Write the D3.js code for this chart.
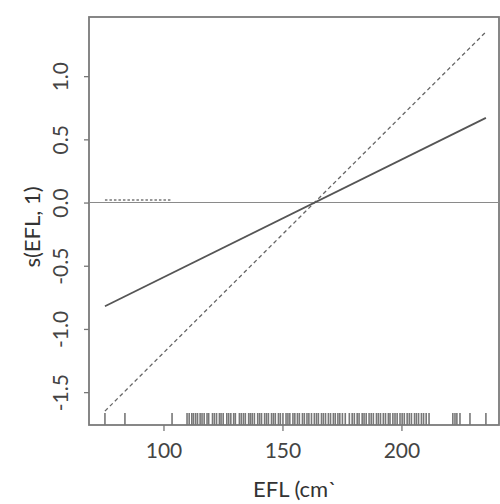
<!DOCTYPE html>
<html><head><meta charset="utf-8">
<script src="https://cdn.jsdelivr.net/npm/d3@7"></script>
<style>body{margin:0;background:#fff}svg{display:block}</style>
</head><body>
<svg id="c" width="500" height="504"></svg>
<script>
const xTicks = [100, 150, 200];
const yTicks = [-1.5, -1.0, -0.5, 0.0, 0.5, 1.0];
const fitLine = [[75.4, -0.82], [235.5, 0.67]];
const refLine = [[75.4, -1.65], [235.5, 1.35]];
const dottedSeg = [[75.4, 0.02], [103.6, 0.02]];
const rug = [75.4, 83.8, 103.6, 109.9, 110.8, 111.9, 112.6, 113.5, 114.3, 115.4, 116.2, 117.1, 118.3, 119.0, 120.6, 121.4, 122.3, 123.5, 124.2, 125.1, 126.6, 127.4, 128.3, 129.5, 130.2, 131.9, 132.7, 133.6, 134.4, 135.8, 136.5, 137.3, 138.2, 139.6, 140.4, 141.2, 142.5, 143.3, 144.1, 145.4, 146.2, 147.0, 148.3, 149.1, 150.2, 151.5, 152.3, 153.1, 154.4, 155.2, 156.3, 157.1, 158.4, 159.2, 160.3, 161.1, 162.2, 163.4, 164.3, 165.1, 166.4, 167.2, 168.1, 169.3, 170.2, 171.4, 172.2, 173.3, 174.1, 175.2, 176.4, 178.1, 179.3, 180.2, 181.4, 182.2, 183.5, 184.3, 185.2, 186.4, 187.3, 188.2, 189.5, 190.3, 191.2, 192.4, 193.3, 194.5, 195.2, 196.4, 197.3, 198.2, 199.4, 200.3, 201.2, 202.4, 203.3, 204.2, 205.5, 206.3, 207.2, 208.4, 209.3, 210.4, 211.6, 221.6, 222.5, 223.3, 224.6, 228.8, 235.5];
const xLabel = "EFL (cm`";
const yLabel = "s(EFL, 1)";

const svg = d3.select("#c");
const L = 89, R = 499, T = 17, B = 425;
const x = d3.scaleLinear().domain([68.7, 241]).range([L, R]);
const y = d3.scaleLinear().domain([-1.76, 1.468]).range([B, T]);
const font = "Lato, 'Open Sans', sans-serif";

// frame
svg.append("rect").attr("x", L).attr("y", T).attr("width", R - L).attr("height", B - T)
  .attr("fill", "none").attr("stroke", "#7a7a7a").attr("stroke-width", 1.8);

// zero line
svg.append("line").attr("x1", L).attr("x2", R).attr("y1", y(0)).attr("y2", y(0))
  .attr("stroke", "#8a8a8a").attr("stroke-width", 1.1);

const line = d3.line().x(d => x(d[0])).y(d => y(d[1]));
svg.append("path").attr("d", line(dottedSeg)).attr("fill", "none")
  .attr("stroke", "#777").attr("stroke-width", 1.3).attr("stroke-dasharray", "2.5,2");
svg.append("path").attr("d", line(refLine)).attr("fill", "none")
  .attr("stroke", "#666").attr("stroke-width", 1.3).attr("stroke-dasharray", "4,3");
svg.append("path").attr("d", line(fitLine)).attr("fill", "none")
  .attr("stroke", "#555").attr("stroke-width", 1.8);

// rug
svg.append("g").selectAll("line").data(rug).join("line")
  .attr("x1", d => x(d)).attr("x2", d => x(d)).attr("y1", B - 12).attr("y2", B)
  .attr("stroke", "#777").attr("stroke-width", 1.6);

// x axis
const gx = svg.append("g").attr("transform", `translate(0,${B})`)
  .call(d3.axisBottom(x).tickValues(xTicks).tickSize(6).tickPadding(12).tickFormat(d3.format("d")));
gx.select(".domain").remove();
gx.selectAll(".tick line").attr("stroke", "#777").attr("stroke-width", 1.3);
gx.selectAll(".tick text").attr("font-family", font).attr("font-size", 21).attr("fill", "#444");

// y axis
const gy = svg.append("g").attr("transform", `translate(${L},0)`)
  .call(d3.axisLeft(y).tickValues(yTicks).tickSize(5).tickFormat(d => d.toFixed(1)));
gy.select(".domain").remove();
gy.selectAll(".tick line").attr("stroke", "#777").attr("stroke-width", 1.3);
gy.selectAll(".tick text")
  .attr("x", null).attr("dy", null)
  .attr("transform", "translate(-21,0) rotate(-90)")
  .attr("text-anchor", "middle").attr("dominant-baseline", "auto")
  .attr("font-family", font).attr("font-size", 21).attr("fill", "#444");

// titles
svg.append("text").attr("x", 295).attr("y", 497).attr("text-anchor", "middle")
  .attr("font-family", font).attr("font-size", 22).attr("fill", "#333").text(xLabel);
svg.append("text").attr("transform", `translate(40,${(T + B) / 2 + 6}) rotate(-90)`)
  .attr("text-anchor", "middle").attr("font-family", font).attr("font-size", 22)
  .attr("fill", "#333").text(yLabel);
</script>
</body></html>
